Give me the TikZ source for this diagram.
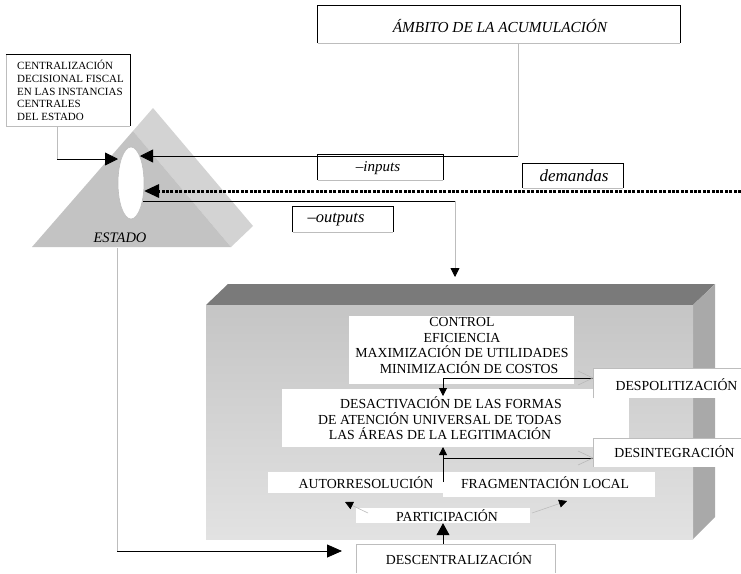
\documentclass[tikz,border=0pt]{standalone}
\usepackage{fontspec}
\setmainfont{Liberation Serif}
\usetikzlibrary{arrows.meta,shapes.geometric,calc}
\definecolor{topface}{HTML}{7A7A7A}
\definecolor{sideface}{HTML}{A9A9A9}
\definecolor{frontA}{HTML}{C5C5C5}
\definecolor{frontB}{HTML}{E2E2E2}
\definecolor{pyrfront}{HTML}{C3C3C3}
\definecolor{pyrback}{HTML}{D3D3D3}
\definecolor{lgray}{HTML}{BDBDBD}
\tikzset{
  blk/.style={draw=black,line width=0.8pt},
  glin/.style={draw=lgray,line width=0.8pt},
  bighead/.tip={Triangle[length=13pt,width=13pt]},
  smallhead/.tip={Triangle[length=8pt,width=8pt]},
  wbox/.style={fill=white,inner sep=0pt,draw=none},
  maintxt/.style={font=\fontsize{13.8}{15.5}\selectfont,align=center,inner sep=0pt},
  ittxt/.style={font=\fontsize{15}{17}\selectfont\itshape,inner sep=0pt},
  centtxt/.style={font=\fontsize{11}{12.6}\selectfont,align=left,inner sep=0pt},
}
\begin{document}
\begin{tikzpicture}[x=1pt,y=-1pt]
\useasboundingbox (0,0) rectangle (741,573);

% ---------- Pyramid (ESTADO) ----------
\fill[pyrback] (133,131) -- (153,108) -- (253,226) -- (231,247) -- cycle;
\fill[pyrfront] (133,131) -- (231,247) -- (32,247) -- cycle;
\node[ellipse,draw=lgray,line width=0.6pt,fill=white,minimum width=26pt,minimum height=72pt,inner sep=0pt] (ell) at (131,183) {};
\node[ittxt,font=\fontsize{14.5}{17}\selectfont\itshape] (estado) at (120,238) {ESTADO};

% ---------- Centralizacion box ----------
\node[wbox,minimum width=124pt,minimum height=71pt] (cent) at (68,90.5) {};
\draw[glin,line width=0.6pt] (cent.north west) -- (cent.south west) -- (cent.south east);
\draw[blk] (cent.north west) -- (cent.north east) -- (cent.south east);
\node[centtxt,anchor=west] (centt) at (17,90.5) {CENTRALIZACIÓN\\DECISIONAL FISCAL\\EN LAS INSTANCIAS\\CENTRALES\\DEL ESTADO};

% ---------- Ambito box ----------
\node[wbox,minimum width=362pt,minimum height=37pt] (amb) at (499,24.5) {};
\draw[blk] (amb.south west) -- (amb.north west) -- (amb.north east) -- (amb.south east);
\draw[glin,line width=0.5pt] (amb.south west) -- (amb.south east);
\node[ittxt,font=\fontsize{15.3}{17}\selectfont\itshape] (ambt) at (500,26) {ÁMBITO DE LA ACUMULACIÓN};

% ---------- inputs / demandas / outputs boxes ----------
\node[wbox,minimum width=125pt,minimum height=25pt] (inp) at (380.5,167.5) {};
\draw[blk] (inp.south west) -- (inp.north west) -- (inp.north east) -- (inp.south east);
\draw[glin,line width=0.5pt] (inp.south west) -- (inp.south east);
\node[ittxt] (inpt) at (378,168) {–inputs};

\node[wbox,minimum width=100pt,minimum height=24pt] (dem) at (573,176) {};
\draw[blk] (dem.south west) -- (dem.north west) -- (dem.north east) -- (dem.south east);
\draw[glin,line width=0.5pt] (dem.south west) -- (dem.south east);
\node[ittxt,font=\fontsize{17}{19}\selectfont\itshape] (demt) at (574,176) {demandas};

\node[wbox,minimum width=100pt,minimum height=25pt] (outp) at (343,219.5) {};
\draw[blk] (outp.south west) -- (outp.north west) -- (outp.north east) -- (outp.south east);
\draw[glin,line width=0.5pt] (outp.south west) -- (outp.south east);
\node[ittxt,font=\fontsize{16.5}{19}\selectfont\itshape] (outpt) at (336,220) {–outputs};

% ---------- connectors to/from the ellipse ----------
\coordinate (c1) at (57,159);
\coordinate (c1t) at (118,159);
\draw[glin] (cent.south -| c1) -- (c1);
\draw[blk,-bighead] (c1) -- (c1t);

\coordinate (a1) at (518,156);
\coordinate (a1t) at (140,156);
\draw[glin] (amb.south -| a1) -- (a1);
\draw[blk,-bighead] (a1) -- (a1t);

\coordinate (d0) at (741,191);
\coordinate (d1) at (144,191);
\draw[line width=3pt,dash pattern=on 3pt off 1.4pt,-{Triangle[length=15pt,width=13pt]}] (d0) -- (d1);

\coordinate (o0) at (143,201);
\coordinate (o1) at (455,201);
\coordinate (o2) at (455,277);
\draw[blk] (o0) -- (o1);
\draw[glin,-{Triangle[length=9pt,width=9pt,color=black]}] (o1) -- (o2);

% ---------- 3D box ----------
\fill[topface] (206,305) -- (228,284) -- (715,284) -- (693,305) -- cycle;
\fill[sideface] (693,305) -- (715,284) -- (715,517) -- (693,539) -- cycle;
\shade[top color=frontA,bottom color=frontB] (206,305) rectangle (693,539);

% ---------- estado -> descentralizacion ----------
\coordinate (e0) at (117,248);
\coordinate (e1) at (117,551);
\coordinate (e2) at (342,551);
\draw[glin] (e0) -- (e1);
\draw[blk,-{Triangle[length=15pt,width=13pt]}] (e1) -- (e2);

% ---------- inner boxes ----------
\node[wbox,minimum width=225pt,minimum height=68pt] (ctrl) at (461.5,350) {};
\node[maintxt] (ctrlt) at (462,345.5) {CONTROL\\EFICIENCIA\\MAXIMIZACIÓN DE UTILIDADES\\\hspace*{14pt}MINIMIZACIÓN DE COSTOS};

\node[wbox,minimum width=347pt,minimum height=58pt] (desa) at (455.5,418) {};
\node[maintxt] (desat) at (440,418.5) {\hspace*{22pt}DESACTIVACIÓN DE LAS FORMAS\\DE ATENCIÓN UNIVERSAL DE TODAS\\LAS ÁREAS DE LA LEGITIMACIÓN};

\node[wbox,minimum width=175pt,minimum height=21pt] (auto) at (355.5,482.5) {};
\node[maintxt] (autot) at (366,482.5) {AUTORRESOLUCIÓN};

\node[wbox,minimum width=212pt,minimum height=25pt] (frag) at (549,484.5) {};
\node[maintxt] (fragt) at (545,483) {FRAGMENTACIÓN LOCAL};

\node[wbox,minimum width=174pt,minimum height=15pt] (part) at (443,515.5) {};
\node[maintxt] (partt) at (447,516) {PARTICIPACIÓN};

\node[wbox,minimum width=148pt,minimum height=30pt] (desp) at (667,383) {};
\draw[draw=lgray,line width=0.5pt] (desp.south west) -- (desp.north west) -- (desp.north east);
\node[maintxt] (despt) at (676.5,385) {DESPOLITIZACIÓN};

\node[wbox,minimum width=148pt,minimum height=29pt] (desi) at (667,452.5) {};
\draw[draw=lgray,line width=0.5pt] (desi.south west) -- (desi.north west) -- (desi.north east);
\node[maintxt] (desit) at (674.5,452) {DESINTEGRACIÓN};

\node[wbox,minimum width=199pt,minimum height=29pt] (desc) at (455.5,558.5) {};
\draw[draw=lgray,line width=0.5pt] (desc.south west) -- (desc.north west) -- (desc.north east) -- (desc.south east);
\node[maintxt] (desct) at (459,559) {DESCENTRALIZACIÓN};

% ---------- inner connectors ----------
\coordinate (p1) at (593,378);
\coordinate (p1t) at (443,396);
\draw[blk,-smallhead] (p1) -| (p1t);
\draw[draw=gray!55,line width=0.6pt] (578,371) -- (p1) -- (578,385);

\coordinate (q1) at (593,458);
\coordinate (q0) at (443,482);
\coordinate (q1t) at (443,447);
\draw[blk] (q1) -- (443,458);
\draw[blk,-smallhead] (q0) -- (q1t);
\draw[draw=gray!55,line width=0.6pt] (578,451) -- (q1) -- (578,465);

\coordinate (r0) at (368,513);
\coordinate (r1) at (345,502);
\coordinate (s0) at (532,513);
\coordinate (s1) at (567,501);
\draw[draw=lgray,line width=0.6pt,-{Triangle[length=8pt,width=8pt,color=black]}] (r0) -- (r1);
\draw[draw=lgray,line width=0.6pt,-{Triangle[length=8pt,width=8pt,color=black]}] (s0) -- (s1);

\draw[blk,-{Triangle[length=12pt,width=13pt]}] (desc.north -| q0) -- (part.south -| q0);

\end{tikzpicture}
\end{document}
